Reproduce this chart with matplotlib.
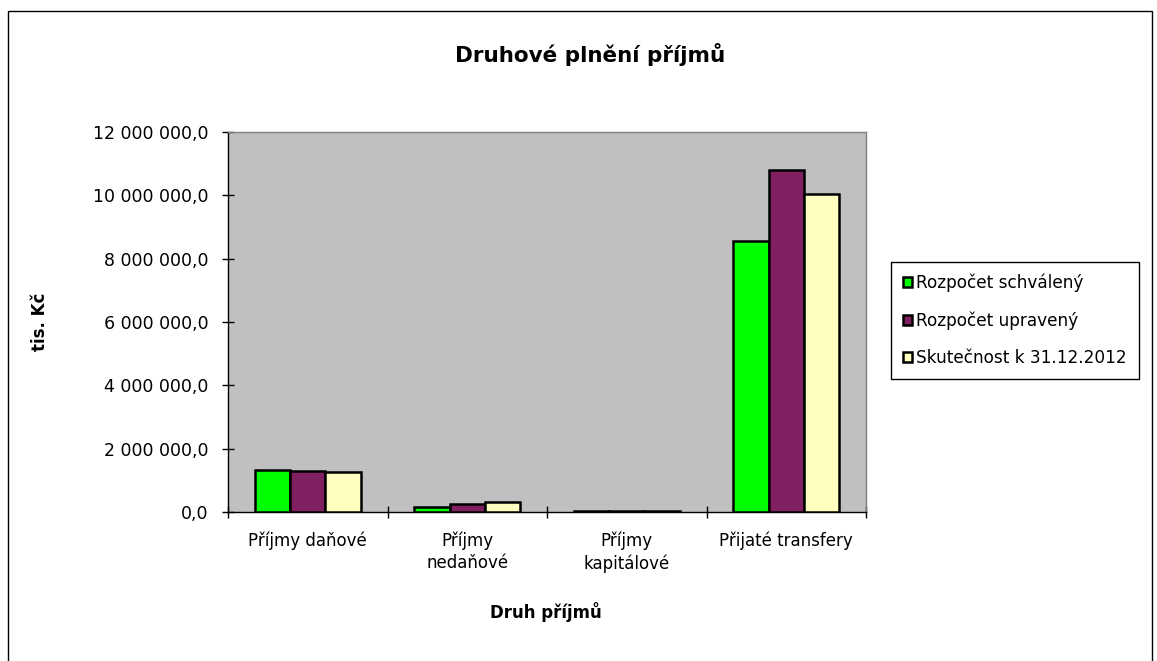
import matplotlib
matplotlib.use("Agg")
import matplotlib.pyplot as plt
import numpy as np
from matplotlib.ticker import FuncFormatter, FixedLocator
from matplotlib.patches import Rectangle

plt.rcParams['font.family'] = ['DejaVu Sans']

categories = ["Příjmy daňové", "Příjmy\nnedaňové", "Příjmy\nkapitálové", "Přijaté transfery"]
series_names = ["Rozpočet schválený", "Rozpočet upravený", "Skutečnost k 31.12.2012"]
schvaleny = [1340000, 160000, 20000, 8550000]
upraveny = [1300000, 250000, 25000, 10800000]
skutecnost = [1260000, 310000, 30000, 10030000]
colors = ["#00FF00", "#802060", "#FFFFC0"]
yticks = [0, 2000000, 4000000, 6000000, 8000000, 10000000, 12000000]

FS = 12

fig = plt.figure(figsize=(11.57, 6.61), dpi=100)
fig.patch.set_facecolor("white")
fig.patches.append(Rectangle((8/1157, -0.01), (1152-8)/1157, 1 - 11/661 + 0.01,
                             transform=fig.transFigure, fill=False,
                             edgecolor="black", linewidth=1.0))

ax = fig.add_axes([228/1157, 1 - 512/661, 638/1157, 380/661])
ax.set_facecolor("#C0C0C0")

x = np.arange(len(categories))
w = 1 / 4.5
data = [schvaleny, upraveny, skutecnost]
for i, (vals, c, name) in enumerate(zip(data, colors, series_names)):
    ax.bar(x + (i - 1) * w, vals, width=w, color=c, edgecolor="black",
           linewidth=1.8, label=name, zorder=3)

ax.set_xlim(-0.5, len(categories) - 0.5)
ax.set_ylim(0, 12000000)
ax.yaxis.set_major_locator(FixedLocator(yticks))
ax.yaxis.set_major_formatter(FuncFormatter(
    lambda v, p: "{:,.1f}".format(v).replace(",", " ").replace(".", ",")))
ax.tick_params(axis="y", direction="inout", length=8, width=1, labelsize=12.5, pad=10)

ax.set_xticks(np.arange(-0.5, len(categories)), minor=False)
ax.set_xticklabels([])
ax.set_xticks(x, minor=True)
ax.set_xticklabels(categories, minor=True, fontsize=FS, linespacing=1.3)
ax.tick_params(axis="x", which="major", direction="inout", length=8, width=1)
ax.tick_params(axis="x", which="minor", length=0, pad=14)

for s in ["left", "bottom"]:
    ax.spines[s].set_color("black")
    ax.spines[s].set_linewidth(1.0)
for s in ["top", "right"]:
    ax.spines[s].set_color("#808080")
    ax.spines[s].set_linewidth(1.0)

fig.text(590/1157, 1 - 55/661, "Druhové plnění příjmů", ha="center", va="center",
         fontsize=15.5, fontweight="bold")
fig.text(40/1157, 1 - 322/661, "tis. Kč", ha="center", va="center",
         rotation=90, fontsize=FS, fontweight="bold")
fig.text(546/1157, 1 - 612/661, "Druh příjmů", ha="center", va="center",
         fontsize=FS, fontweight="bold")

leg = fig.legend(loc="upper left", bbox_to_anchor=(891/1157, 1 - 262/661),
                 fontsize=12.2, frameon=True, fancybox=False, framealpha=1,
                 edgecolor="black", handlelength=0.55, handleheight=0.55,
                 handletextpad=0.25, labelspacing=1.12, borderpad=0.7,
                 borderaxespad=0)
leg.get_frame().set_linewidth(1.0)

fig.savefig("out.png", dpi=100)
